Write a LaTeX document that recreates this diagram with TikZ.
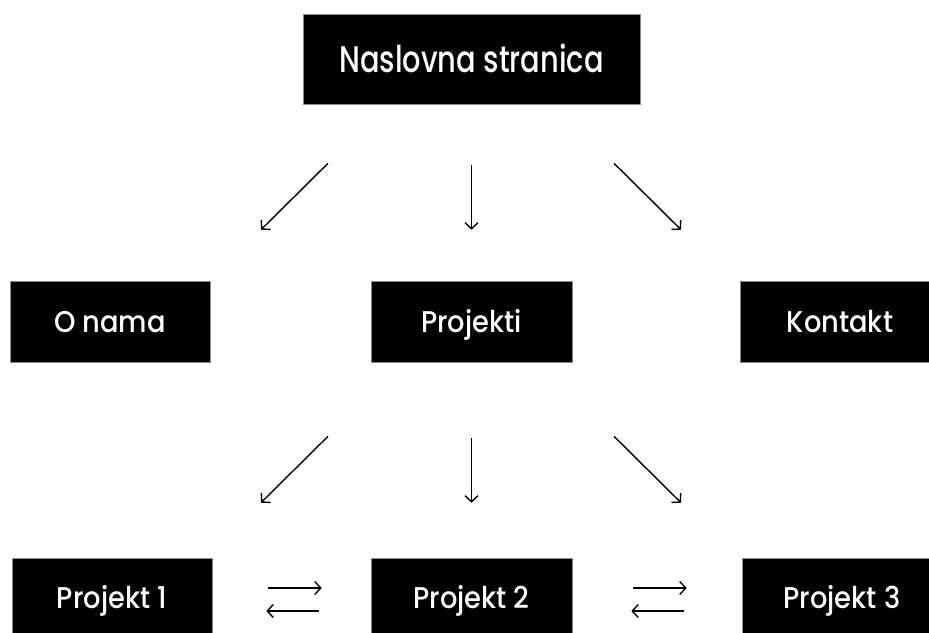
\documentclass[tikz,border=0pt]{standalone}
\usepackage{fontspec}
\setmainfont{Poppins Medium}[FakeStretch=0.78]
\newfontfamily\labelfont{Poppins Medium}[FakeStretch=0.91]
\usetikzlibrary{arrows.meta,calc,positioning}
\definecolor{boxedge}{HTML}{8C8C8C}
\tikzset{card/.style={fill=black, draw=boxedge, line width=.6pt, text=white, inner sep=0pt, minimum width=200pt, minimum height=81pt, text height=21pt, text depth=0pt, font=\labelfont\fontsize{30}{32}\selectfont}, titlecard/.style={card, minimum width=337pt, minimum height=90pt, text height=26pt, font=\fontsize{37}{40}\selectfont}, link/.style={-{Straight Barb[length=6pt,width=13pt]}, line width=1.4pt}}

\begin{document}
\begin{tikzpicture}[x=1pt,y=-1pt]
\useasboundingbox[fill=white] (0,0) rectangle (929,632);
\node[titlecard] (home) at (471.5,59) {Naslovna stranica};
\node[card] (about) at (110,321.5) {O nama}; \node[card, minimum width=201pt] (proj) at (471.5,321.5) {Projekti}; \node[card] (contact) at (840,321.5) {Kontakt};
\node[card, minimum height=79pt] (pa) at (112,597.5) {Projekt 1}; \node[card, minimum width=201pt, minimum height=79pt] (pb) at (471.5,597.5) {Projekt 2}; \node[card, minimum height=79pt] (pc) at (842,597.5) {Projekt 3};
\draw[link] ($(home.south)+(-143.5,59)$) -- ($(about.north)+(151,-51)$);
\draw[link] ($(home.south)+(0,61)$) -- ($(proj.north)+(0,-51)$);
\draw[link] ($(home.south)+(142.5,59)$) -- ($(contact.north)+(-159,-51)$);
\draw[link] ($(proj.south)+(-143.5,74)$) -- ($(pa.north)+(149,-55)$);
\draw[link] ($(proj.south)+(0,76)$) -- ($(pb.north)+(0,-55)$);
\draw[link] ($(proj.south)+(142.5,74)$) -- ($(pc.north)+(-161,-55)$);
\draw[link] ($(pa.east)+(56,-9.5)$) -- ($(pb.west)+(-49,-9.5)$); \draw[link] ($(pb.west)+(-52,13.5)$) -- ($(pa.east)+(54,13.5)$);
\draw[link] ($(pb.east)+(61,-9.5)$) -- ($(pc.west)+(-55,-9.5)$); \draw[link] ($(pc.west)+(-58,13.5)$) -- ($(pb.east)+(59,13.5)$);
\end{tikzpicture}
\end{document}
